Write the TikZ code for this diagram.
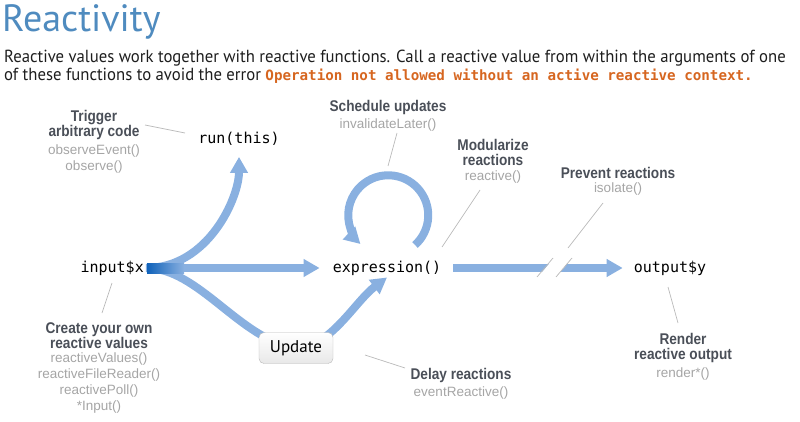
\documentclass[tikz,border=0pt]{standalone}
\usepackage{fontspec}
\setmainfont{PT Sans}
\newfontfamily\bodyfont[FakeStretch=0.955]{PT Sans}
\newfontfamily\codefont{DejaVu Sans Mono}
\newfontfamily\labelfont[FakeStretch=0.88]{Liberation Sans}
\newfontfamily\funcfont{Liberation Sans}
\usetikzlibrary{arrows.meta,positioning}
\pgfdeclarelayer{background}
\pgfsetlayers{background,main}

\definecolor{titleblue}{RGB}{79,139,191}
\definecolor{bandblue}{RGB}{137,176,224}
\definecolor{inputblue}{RGB}{16,98,186}
\definecolor{labelgray}{RGB}{74,79,88}
\definecolor{funcgray}{RGB}{165,165,165}
\definecolor{leadgray}{RGB}{185,185,185}
\definecolor{errorange}{RGB}{214,102,32}
\definecolor{bodyblack}{RGB}{30,30,30}

\begin{document}
\begin{tikzpicture}[
    x=1pt, y=-1pt,
    >={Triangle[length=16pt,width=17pt]},
    band/.style={bandblue, line width=8pt},
    body/.style={font=\bodyfont\fontsize{17.5}{18}\selectfont, text=bodyblack, inner sep=0pt, anchor=base west},
    code/.style={font=\codefont\fontsize{15}{18}\selectfont, inner sep=2pt},
    head/.style={font=\labelfont\bfseries\fontsize{15.5}{15.5}\selectfont, text=labelgray, align=center, inner sep=0pt, anchor=north},
    func/.style={font=\funcfont\fontsize{13.5}{16}\selectfont, text=funcgray, align=center, inner sep=0pt, below=4pt of #1},
    leader/.style={leadgray, line width=0.7pt},
    button/.style={
        draw=gray!55,
        rounded corners=5pt,
        top color=white,
        bottom color=gray!18,
        minimum width=74pt,
        minimum height=31pt,
        inner sep=0pt,
        font=\fontsize{17}{20}\selectfont
    }
]
\useasboundingbox (0,0) rectangle (800,422);

% Title and intro
\node[body, font=\fontsize{38}{40}\selectfont, text=titleblue] (title) at (2,32) {Reactivity};
\node[body] (intro1) at (4,63) {Reactive values work together with reactive functions. Call a reactive value from within the arguments of one};
\node[body] (intro2) at (4,81) {of these functions to avoid the error \textcolor{errorange}{\codefont\bfseries\fontsize{14.2}{17}\selectfont Operation not allowed without an active reactive context.}};

% Main objects
\node[code, anchor=east] (input) at (146,268) {input\$x};
\node[code] (expr) at (387,268) {expression()};
\node[code] (output) at (670,268) {output\$y};
\node[code] (run) at (239,139) {run(this)};
\node[button] (update) at (296,348) {Update};

% Bands
\begin{pgfonlayer}{background}
\draw[band, ->, shorten >=11pt] (input.east) -- (expr.west);
\draw[band, ->, shorten >=9pt] (input.east) .. controls +(62,0) and +(0,50) .. (run.south);
\draw[band] (input.east) .. controls +(53,0) and +(-56,-8) .. (update.center);
\draw[band, ->] (update.center) .. controls +(34,0) and +(-32,24) .. (expr.south);
\draw[band, ->] ([shift={(28,-23)}]expr.center) arc[start angle=48, end angle=-226, radius=40];
\draw[band, ->, shorten <=10pt, shorten >=9pt] (expr.east) -- (output.west);
\end{pgfonlayer}
\shade[left color=inputblue, right color=bandblue] (147,263) rectangle (184,273);

% Break in the reaction line
\fill[white] (538,277) -- (554,258) -- (572,258) -- (556,277) -- cycle;
\draw[leader] (537,277) -- (553,258);
\draw[leader] (556,277) -- (572,258);

% Labels
\node[head] (trighead) at (94,110) {Trigger\\arbitrary code};
\node[func=trighead] (trigfunc) {observeEvent()\\observe()};

\node[head] (schedhead) at (388,100) {Schedule updates};
\node[func=schedhead] (schedfunc) {invalidateLater()};

\node[head] (modhead) at (493,139) {Modularize\\reactions};
\node[func=modhead] (modfunc) {reactive()};

\node[head] (prevhead) at (618,167) {Prevent reactions};
\node[func=prevhead] (prevfunc) {isolate()};

\node[head] (createhead) at (99,322) {Create your own\\reactive values};
\node[func=createhead] (createfunc) {reactiveValues()\\reactiveFileReader()\\reactivePoll()\\*Input()};

\node[head] (renderhead) at (683,333) {Render\\reactive output};
\node[func=renderhead] (renderfunc) {render*()};

\node[head] (delayhead) at (461,368) {Delay reactions};
\node[func=delayhead] (delayfunc) {eventReactive()};

% Leaders
\draw[leader] (145,125) -- (185,133);
\draw[leader] (397,133) -- (388,166);
\draw[leader] (480,190) -- (442,247);
\draw[leader] (603,203) -- (568,248);
\draw[leader] (668,287) -- (678,323);
\draw[leader] (112,283) -- (102,313);
\draw[leader] (365,355) -- (405,368);

\end{tikzpicture}
\end{document}
